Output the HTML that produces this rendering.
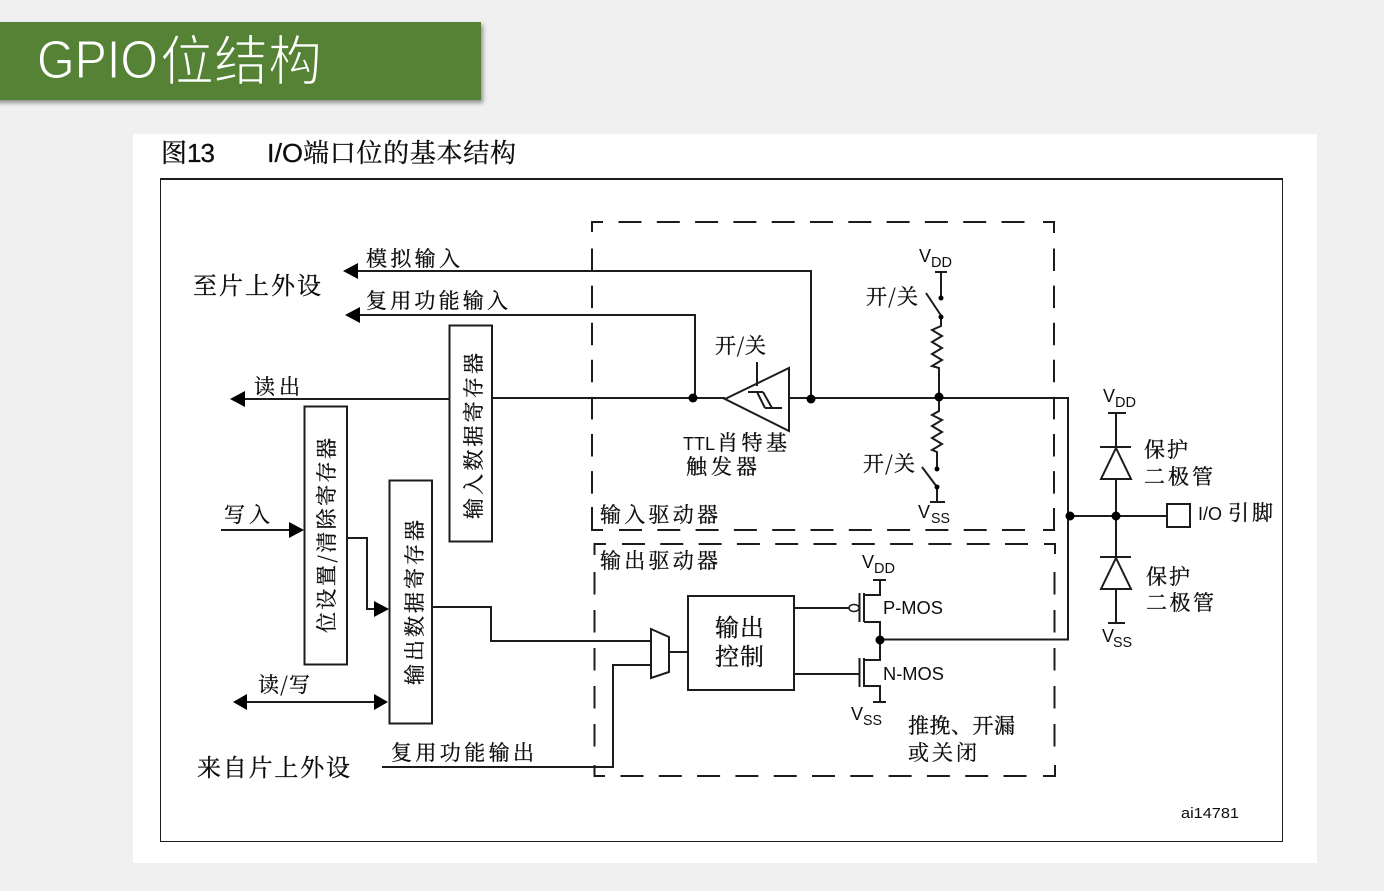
<!DOCTYPE html>
<html lang="zh">
<head>
<meta charset="utf-8">
<style>
html,body{margin:0;padding:0;background:#f0f0f0;width:1384px;height:891px;overflow:hidden}
svg{display:block;position:absolute;left:0;top:0}
.l{fill:none;stroke:#1c1c1c;stroke-width:2}
.d1{fill:none;stroke:#1c1c1c;stroke-width:2;stroke-dasharray:23 15.3}
.d2{fill:none;stroke:#1c1c1c;stroke-width:2;stroke-dasharray:22.500 14.600}
.d3{fill:none;stroke:#1c1c1c;stroke-width:2;stroke-dasharray:22.500 15.500}
.c{fill:#000}
.h{fill:#000;stroke:none}
text{fill:#111}
.z{font-family:"Noto Serif CJK SC","Liberation Serif",serif;font-size:21px;stroke:#111;stroke-width:.3px}
.s{font-family:"Liberation Sans",sans-serif;font-size:18px}
.u{font-family:"Liberation Sans",sans-serif;font-size:15px}
</style>
</head>
<body>
<svg width="1384" height="891" viewBox="0 0 1384 891" xmlns="http://www.w3.org/2000/svg">
<defs>
<filter id="sh" x="-5%" y="-20%" width="110%" height="140%"><feDropShadow dx="2" dy="3" stdDeviation="2" flood-color="#000" flood-opacity=".4"/></filter>
<filter id="b" x="0" y="0" width="100%" height="100%"><feGaussianBlur stdDeviation="0.35"/></filter>
</defs>
<rect x="0" y="0" width="1384" height="891" fill="#f0f0f0"/>
<rect x="-10" y="22" width="491" height="78" fill="#548235" filter="url(#sh)"/>
<text x="37" y="78" font-size="54" style="fill:#fff;stroke:#548235;stroke-width:1.100px;paint-order:fill stroke;font-family:'Liberation Sans',sans-serif" textLength="121" lengthAdjust="spacingAndGlyphs">GPIO</text>
<text x="160" y="80" font-size="54" style="fill:#fff;stroke:#548235;stroke-width:1.400px;paint-order:fill stroke;font-family:'Noto Sans CJK SC',sans-serif" textLength="162">位结构</text>
<rect x="133" y="134" width="1184" height="729" fill="#fff"/>
<g filter="url(#b)">
<text x="161" y="162" class="z" style="font-size:26px">图</text>
<text x="187" y="162" class="s" style="font-size:26px;stroke:#111;stroke-width:.3px" textLength="28">13</text>
<text x="267" y="162" class="s" style="font-size:26px;stroke:#111;stroke-width:.3px" textLength="36" lengthAdjust="spacingAndGlyphs">I/O</text>
<text x="303" y="162" class="z" style="font-size:26px" textLength="213">端口位的基本结构</text>
<rect class="l" x="160" y="179" width="1123" height="663"/>

<!-- input dashed box -->
<path class="l" d="M592 232V222H603M1043 222H1054V233M592 507V530H603M1043 530H1054V508"/>
<path class="d1" d="M618.500 222H1030"/>
<path class="d1" d="M619 530H1030"/>
<path class="d2" d="M592 248.500V494"/>
<path class="d2" d="M1054 248.500V494"/>
<!-- output dashed box -->
<path class="l" d="M594.500 555V544H606M1044 544H1055V554M594.500 765V776H605M1043 776H1055V765"/>
<path class="d1" d="M622 544H1030"/>
<path class="d1" d="M620.500 776H1030"/>
<path class="d3" d="M594.500 572V752"/>
<path class="d3" d="M1054.500 572V752"/>

<!-- registers -->
<rect class="l" x="449.500" y="325.500" width="42.500" height="216"/>
<rect class="l" x="304.500" y="406.500" width="42.500" height="258"/>
<rect class="l" x="389.500" y="480.500" width="42.500" height="243"/>
<rect class="l" x="688" y="596" width="106" height="94"/>

<!-- left wires -->
<path class="l" d="M355 271H811V399"/>
<path class="h" d="M343 271l15-8v16z"/>
<path class="l" d="M357 315H695V397"/>
<path class="h" d="M345 315l15-8v16z"/>
<path class="l" d="M243 399H449"/>
<path class="h" d="M230 399l15-8v16z"/>
<path class="l" d="M492 398H725M789 398H1068V639.500H880"/>
<path class="l" d="M221 530H292"/>
<path class="h" d="M304 530l-15-8v16z"/>
<path class="l" d="M347 538H367V609H378"/>
<path class="h" d="M389 609l-15-8v16z"/>
<path class="l" d="M243 702H378"/>
<path class="h" d="M233 702l14-8v16zM388 702l-14-8v16z"/>
<path class="l" d="M432 607H491V641H651"/>
<path class="l" d="M382 767H613V665H651"/>
<path class="l" d="M669 652H688"/>
<path class="l" d="M651 629L669 637V672L651 678Z"/>

<!-- schmitt -->
<path class="l" d="M725 399L789 368V431Z"/>
<path class="l" d="M757 362V386M748 392H763M757 392L765 408M763 392L772 408M765 408H782" stroke-width="1.600"/>

<!-- pull up/down -->
<path class="l" d="M935 272H947M941 272V298M926 293L942 317M941 317V326L932 330L942 336L932 342L942 348L932 354L942 360L932 366L939 368V398"/>
<path class="l" d="M939 398V411L932 415L942 420L932 426L942 432L932 438L942 444L932 450L937 452V469M922 467L937 487M937 487V502M930 502H945"/>

<!-- MOS -->
<path class="l" d="M794 608H849M794 674H859"/>
<ellipse cx="854" cy="608" rx="5" ry="3.500" fill="#fff" stroke="#1c1c1c" stroke-width="1.500"/>
<path class="l" d="M859.500 593V622M864 593V622M864 595H880V580M873 580H886M864 622H880V660H864M859.500 658V687M864 658V687M864 686H880V702M873 702H886"/>

<!-- diodes -->
<path class="l" d="M1070 516H1167M1116 413V447M1116 479V557M1116 589V623M1108 413H1126M1100 447H1131M1100 557H1131M1108 623H1125"/>
<path class="l" d="M1116 448L1101 479H1131Z"/>
<path class="l" d="M1116 558L1101 589H1131Z"/>
<rect class="l" x="1167" y="504" width="23" height="23"/>

<!-- dots -->
<circle class="c" cx="693" cy="398" r="4.500"/>
<circle class="c" cx="811" cy="399" r="4.500"/>
<circle class="c" cx="939" cy="397" r="4.500"/>
<circle class="c" cx="880" cy="640" r="4.500"/>
<circle class="c" cx="1070" cy="516" r="4.500"/>
<circle class="c" cx="1116" cy="516" r="4.500"/>
<circle class="c" cx="941" cy="298" r="2.500"/>
<circle class="c" cx="941" cy="317" r="2.500"/>
<circle class="c" cx="937" cy="469" r="2.500"/>
<circle class="c" cx="937" cy="487" r="2.500"/>

<!-- labels -->
<text class="z" x="193" y="294" style="font-size:24px" textLength="128">至片上外设</text>
<text class="z" x="197" y="776" style="font-size:24px" textLength="153">来自片上外设</text>
<text class="z" x="366" y="266" textLength="94">模拟输入</text>
<text class="z" x="366" y="308" textLength="142">复用功能输入</text>
<text class="z" x="254" y="394" textLength="46">读出</text>
<text class="z" x="224" y="522" textLength="46">写入</text>
<text class="z" x="258" y="692" textLength="52">读/写</text>
<text class="z" x="391" y="760" textLength="143">复用功能输出</text>
<text class="z" x="715" y="353" textLength="51">开/关</text>
<text class="z" x="866" y="304" textLength="52">开/关</text>
<text class="z" x="863" y="471" textLength="52">开/关</text>
<text class="s" x="683" y="450" style="font-size:18px" textLength="32" lengthAdjust="spacingAndGlyphs">TTL</text>
<text class="z" x="717" y="450" textLength="70">肖特基</text>
<text class="z" x="686" y="474" textLength="71">触发器</text>
<text class="z" x="600" y="522" textLength="118">输入驱动器</text>
<text class="z" x="600" y="568" textLength="118">输出驱动器</text>
<text class="z" x="715" y="636" style="font-size:24px" textLength="49">输出</text>
<text class="z" x="715" y="665" style="font-size:24px" textLength="49">控制</text>
<text class="z" x="908" y="733" textLength="107">推挽、开漏</text>
<text class="z" x="908" y="760" textLength="69">或关闭</text>
<text class="z" x="1144" y="457" textLength="44">保护</text>
<text class="z" x="1144" y="484" textLength="69">二极管</text>
<text class="z" x="1146" y="584" textLength="44">保护</text>
<text class="z" x="1146" y="610" textLength="68">二极管</text>
<text class="s" x="1198" y="520" textLength="24" lengthAdjust="spacingAndGlyphs">I/O</text>
<text class="z" x="1228" y="520" textLength="45">引脚</text>
<text class="u" x="1181" y="818" textLength="58" lengthAdjust="spacingAndGlyphs">ai14781</text>
<text class="s" x="883" y="614" textLength="60" lengthAdjust="spacingAndGlyphs">P-MOS</text>
<text class="s" x="883" y="680" textLength="61" lengthAdjust="spacingAndGlyphs">N-MOS</text>

<text class="s" x="919" y="262">V</text><text class="u" x="931" y="267" textLength="21" lengthAdjust="spacingAndGlyphs">DD</text>
<text class="s" x="918" y="518">V</text><text class="u" x="931" y="523" textLength="19" lengthAdjust="spacingAndGlyphs">SS</text>
<text class="s" x="862" y="568">V</text><text class="u" x="874" y="573" textLength="21" lengthAdjust="spacingAndGlyphs">DD</text>
<text class="s" x="851" y="720">V</text><text class="u" x="863" y="725" textLength="19" lengthAdjust="spacingAndGlyphs">SS</text>
<text class="s" x="1103" y="402">V</text><text class="u" x="1115" y="407" textLength="21" lengthAdjust="spacingAndGlyphs">DD</text>
<text class="s" x="1102" y="642">V</text><text class="u" x="1113" y="647" textLength="19" lengthAdjust="spacingAndGlyphs">SS</text>

<text class="z" transform="translate(481 519) rotate(-90)" textLength="166">输入数据寄存器</text>
<text class="z" transform="translate(334 633) rotate(-90)" textLength="195">位设置/清除寄存器</text>
<text class="z" transform="translate(422 685) rotate(-90)" textLength="165">输出数据寄存器</text>
</g>
</svg>
</body>
</html>
